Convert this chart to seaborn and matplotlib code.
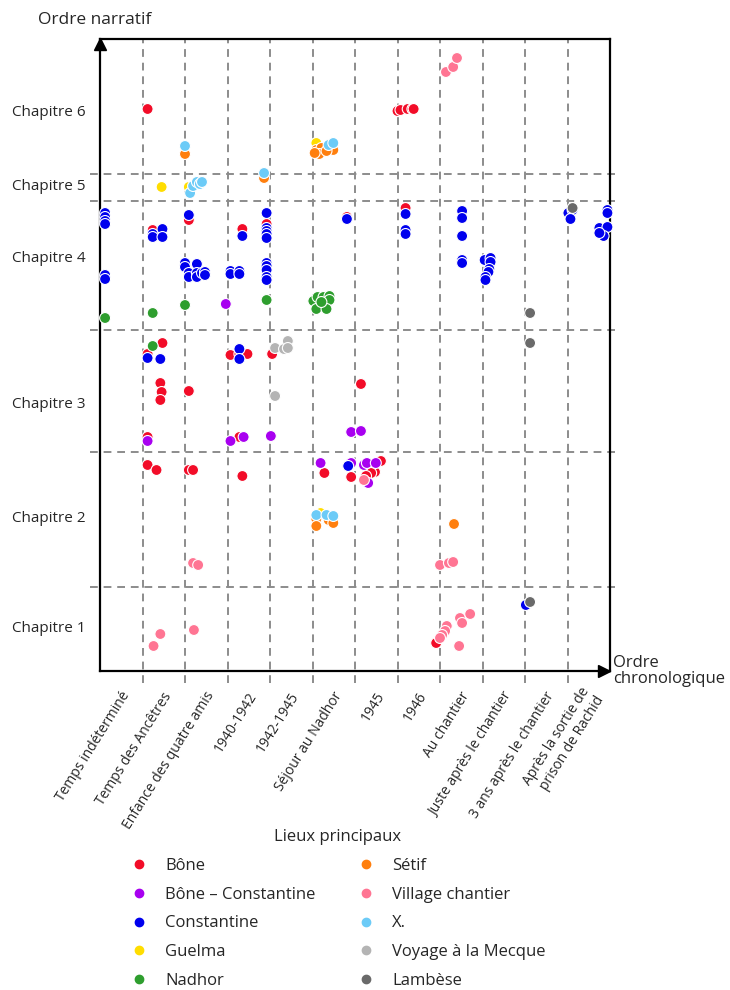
import matplotlib
matplotlib.use("Agg")
import matplotlib.pyplot as plt
import matplotlib.transforms as mtransforms
from matplotlib.lines import Line2D
import seaborn as sns
import pandas as pd

# categories
periodes = ["Temps indéterminé", "Temps des Ancêtres", "Enfance des quatre amis",
            "1940-1942", "1942-1945", "Séjour au Nadhor", "1945", "1946",
            "Au chantier", "Juste après le chantier", "3 ans après le chantier",
            "Après la sortie de\nprison de Rachid"]
chapitres = ["Chapitre 1", "Chapitre 2", "Chapitre 3", "Chapitre 4", "Chapitre 5", "Chapitre 6"]
limites_chap = [0, 84, 219, 341, 470, 497, 632]   # narrative order, chapter bounds

lieux = ["Bône", "Bône – Constantine", "Constantine", "Guelma", "Nadhor",
         "Sétif", "Village chantier", "X.", "Voyage à la Mecque", "Lambèse"]
couleurs = ["#F20C28", "#A800F0", "#0000EE", "#FFDD00", "#2E9E2E",
            "#FF7F0E", "#FF7593", "#6CCBF7", "#B4B4B4", "#6A6A6A"]

# x = period index (+ offset inside the period), y = narrative order
bone_x = [1.12, 2.09, 1.24, 3.35, 3.92, 5.81, 7.19, 7.00, 7.07, 7.24, 7.35, 7.38, 1.47, 1.12,
          1.42, 1.45, 1.42, 2.09, 1.12, 3.07, 3.28, 3.47, 3.28, 4.05, 6.14, 1.12, 1.33, 2.09,
          2.19, 3.35, 5.28, 5.91, 6.61, 6.47, 6.38, 6.26, 7.91]
bone_y = [562, 451, 441, 442, 447, 454, 463, 560, 561, 562, 562, 562, 328, 317,
          288, 279, 271, 280, 234, 316, 317, 317, 234, 317, 287, 206, 201, 201,
          201, 195, 198, 194, 210, 199, 198, 195, 28]

bc_x = [2.96, 1.12, 3.07, 3.38, 4.02, 5.91, 6.14, 5.19, 5.91, 6.21, 6.28, 6.49, 6.31]
bc_y = [367, 230, 230, 234, 235, 239, 240, 208, 208, 206, 208, 208, 188]

const_x = [0.12, 0.12, 0.12, 0.12, 0.12, 0.12, 1.24, 1.24, 1.47, 1.47, 2.09,
           2.00, 2.00, 2.09, 2.09, 2.28, 2.28, 2.28, 2.40, 2.47, 2.47,
           3.35, 3.07, 3.07, 3.28, 3.28, 3.92, 3.92, 3.92, 3.92, 3.92,
           3.92, 3.92, 3.92, 3.92, 3.92, 5.81, 7.19, 7.19, 7.19,
           8.52, 8.52, 8.52, 8.52, 8.52, 9.05, 9.19, 9.19, 9.16, 9.14, 9.07, 9.07,
           11.02, 11.12, 11.07, 11.94, 11.94, 11.75, 11.94, 11.85, 11.75,
           1.12, 1.42, 3.28, 3.28, 5.84, 10.02]
const_y = [458, 454, 450, 447, 396, 392, 437, 434, 442, 434, 456,
           408, 404, 398, 394, 407, 398, 394, 398, 399, 396,
           435, 400, 397, 400, 397, 458, 443, 440, 437, 433,
           408, 405, 401, 394, 391, 452, 457, 441, 437,
           460, 453, 435, 411, 408, 411, 413, 409, 402, 399, 394, 391,
           458, 461, 452, 461, 458, 443, 444, 435, 438,
           313, 312, 322, 312, 205, 66]

guelma_x = [1.45, 2.09, 5.09, 5.19]
guelma_y = [484, 484, 528, 158]

nadhor_x = [0.12, 1.24, 2.00, 3.92, 5.02, 5.12, 5.26, 5.40, 5.40, 5.09, 5.33, 5.21, 1.24]
nadhor_y = [353, 358, 366, 371, 370, 374, 374, 375, 371, 362, 362, 369, 325]

setif_x = [2.00, 3.86, 5.09, 5.21, 5.16, 5.49, 5.05, 5.33, 5.09, 5.09, 5.38, 5.49, 8.33]
setif_y = [517, 493, 521, 523, 517, 521, 518, 520, 152, 145, 151, 148, 147]

village_x = [8.14, 8.31, 8.40, 2.19, 2.31, 8.00, 8.21, 8.31, 1.42, 1.26, 2.21, 8.16, 8.12,
             8.05, 8.00, 8.47, 8.52, 8.71, 8.45, 6.21]
village_y = [599, 604, 613, 108, 106, 106, 108, 109, 37, 25, 41, 45, 40,
             36, 33, 53, 48, 57, 25, 191]

x_x = [2.00, 2.12, 2.19, 2.28, 2.35, 2.40, 3.86, 5.38, 5.49, 5.09, 5.33, 5.49]
x_y = [525, 478, 485, 489, 487, 489, 498, 526, 528, 156, 156, 155]

mecque_x = [4.12, 4.33, 4.42, 4.42, 4.12]
mecque_y = [323, 322, 330, 323, 275]

lambese_x = [10.12, 10.12, 10.12, 11.12]
lambese_y = [358, 328, 69, 463]

series = [(bone_x, bone_y), (bc_x, bc_y), (const_x, const_y), (guelma_x, guelma_y),
          (nadhor_x, nadhor_y), (setif_x, setif_y), (village_x, village_y),
          (x_x, x_y), (mecque_x, mecque_y), (lambese_x, lambese_y)]
rows = []
for lieu, (xs, ys) in zip(lieux, series):
    for a, b in zip(xs, ys):
        rows.append({"x": a, "y": b, "lieu": lieu})
df = pd.DataFrame(rows)

# where the chapter names sit (narrative order)
pos_chap = [43, 152, 266, 412, 484, 558]

sns.set_theme(style="white")
plt.rcParams["font.family"] = ["Open Sans", "DejaVu Sans"]

fig = plt.figure(figsize=(7.3, 9.9), dpi=100)
ax = fig.add_axes([100 / 730, 1 - 671 / 990, 510 / 730, 632 / 990])

# dashed grid: period and chapter boundaries
for i in range(1, len(periodes)):
    ax.plot([i, i], [-12, limites_chap[-1]], color="#8c8c8c", lw=1.4,
            dashes=(4, 3), clip_on=False, zorder=1)
for b in limites_chap[1:-1]:
    ax.plot([-0.24, 12.17], [b, b], color="#8c8c8c", lw=1.4,
            dashes=(4, 3), clip_on=False, zorder=1)

sns.scatterplot(data=df, x="x", y="y", hue="lieu", hue_order=lieux, palette=couleurs,
                s=62, edgecolor="white", linewidth=0.8, legend=False, ax=ax,
                clip_on=False, zorder=3)

ax.set_xlim(0, len(periodes))
ax.set_ylim(limites_chap[0], limites_chap[-1])
ax.set_xlabel("")
ax.set_ylabel("")
ax.set_xticks([i + 0.5 for i in range(len(periodes))])
ax.set_xticklabels(periodes, rotation=58, ha="right", va="center",
                   rotation_mode="anchor", fontsize=10)
ax.tick_params(axis="x", length=0, pad=16)
decal = mtransforms.ScaledTranslation(5 / 100, 0, fig.dpi_scale_trans)
for lab in ax.get_xticklabels():
    lab.set_transform(lab.get_transform() + decal)
ax.set_yticks([])
for sp in ax.spines.values():
    sp.set_color("black")
    sp.set_linewidth(1.6)

# arrows
ax.plot(0, 1 - 0.008, marker="^", color="black", ms=8, transform=ax.transAxes,
        clip_on=False, zorder=5)
ax.plot(1 - 0.012, 0, marker=">", color="black", ms=8, transform=ax.transAxes,
        clip_on=False, zorder=5)

# chapter labels
trans = mtransforms.blended_transform_factory(fig.transFigure, ax.transData)
for nom, yy in zip(chapitres, pos_chap):
    ax.text(12 / 730, yy, nom, transform=trans, ha="left", va="center", fontsize=11)

fig.text(38 / 730, 1 - 20 / 990, "Ordre narratif", ha="left", va="center", fontsize=12.5)
fig.text(613 / 730, 1 - 671 / 990, "Ordre\nchronologique", ha="left", va="center",
         fontsize=12, linespacing=1.05)

handles = [Line2D([], [], marker="o", ls="", color=c, markersize=6) for c in couleurs]
leg = fig.legend(handles, lieux, ncol=2, loc="upper center",
                 bbox_to_anchor=(338 / 730, 1 - 826 / 990), frameon=False,
                 title="Lieux principaux", fontsize=12, title_fontsize=12,
                 handlelength=1.0, handletextpad=1.1, columnspacing=2.5,
                 labelspacing=0.76, borderaxespad=0, borderpad=0.2)

fig.savefig("out.png", dpi=100)
